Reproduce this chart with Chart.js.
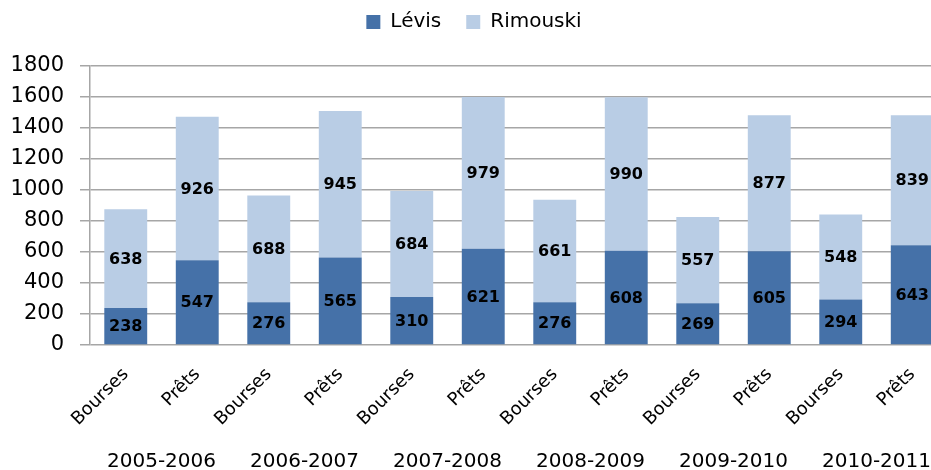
<!DOCTYPE html>
<html>
<head>
<meta charset="utf-8">
<script src="https://cdn.jsdelivr.net/npm/chart.js@4/dist/chart.umd.min.js"></script>
<style>
  html, body { margin: 0; padding: 0; background: #fff; overflow: hidden; }
  #wrap { width: 960px; height: 470px; }
</style>
</head>
<body>
<div id="wrap"><canvas id="chart" width="960" height="470"></canvas></div>
<script>
// données
const categories = ['Bourses', 'Prêts', 'Bourses', 'Prêts', 'Bourses', 'Prêts',
                    'Bourses', 'Prêts', 'Bourses', 'Prêts', 'Bourses', 'Prêts'];
const years = ['2005-2006', '2006-2007', '2007-2008', '2008-2009', '2009-2010', '2010-2011'];
const levis = [238, 547, 276, 565, 310, 621, 276, 608, 269, 605, 294, 643];
const rimouski = [638, 926, 688, 945, 684, 979, 661, 990, 557, 877, 548, 839];
const yTicks = [0, 200, 400, 600, 800, 1000, 1200, 1400, 1600, 1800];

const FONT = "'DejaVu Sans', sans-serif";

// légende : hauteur fixe, remontée de quelques pixels
const legendBox = {
    id: 'legendBox',
    beforeInit(chart) {
        const lg = chart.legend;
        if (!lg) return;
        const fit = lg.fit;
        lg.fit = function () {
            fit.call(this);
            this.height = 66;
        };
    },
    afterLayout(chart) {
        const lg = chart.legend;
        if (!lg) return;
        lg.top -= 13;
        lg.bottom -= 13;
    }
};

// étiquettes de valeurs au centre de chaque segment
const valueLabels = {
    id: 'valueLabels',
    afterDatasetsDraw(chart) {
        const ctx = chart.ctx;
        ctx.save();
        ctx.font = 'bold 16px ' + FONT;
        ctx.fillStyle = '#000';
        ctx.textAlign = 'center';
        ctx.textBaseline = 'middle';
        chart.data.datasets.forEach((ds, i) => {
            chart.getDatasetMeta(i).data.forEach((bar, j) => {
                const mid = (bar.y + bar.base) / 2;
                ctx.fillText(ds.data[j], bar.x, mid + 1);
            });
        });
        ctx.restore();
    }
};

// années sous les paires de barres
const yearLabels = {
    id: 'yearLabels',
    afterDraw(chart) {
        const ctx = chart.ctx;
        const x = chart.scales.x;
        ctx.save();
        ctx.font = '20px ' + FONT;
        ctx.fillStyle = '#000';
        ctx.textAlign = 'center';
        ctx.textBaseline = 'middle';
        years.forEach((y, i) => {
            const cx = (x.getPixelForValue(i * 2) + x.getPixelForValue(i * 2 + 1)) / 2;
            ctx.fillText(y, cx, 462);
        });
        ctx.restore();
    }
};

new Chart(document.getElementById('chart').getContext('2d'), {
    type: 'bar',
    data: {
        labels: categories,
        datasets: [
            { label: 'Lévis', data: levis, backgroundColor: '#4571a8' },
            { label: 'Rimouski', data: rimouski, backgroundColor: '#b9cde5' }
        ]
    },
    options: {
        responsive: false,
        animation: false,
        devicePixelRatio: 1,
        layout: { padding: { top: 0, right: 12, left: 0, bottom: 0 } },
        datasets: { bar: { categoryPercentage: 1, barPercentage: 0.6 } },
        plugins: {
            legend: {
                position: 'top',
                labels: {
                    font: { family: FONT, size: 20 },
                    color: '#000',
                    boxWidth: 14,
                    boxHeight: 14,
                    padding: 25
                }
            },
            tooltip: { enabled: false }
        },
        scales: {
            x: {
                stacked: true,
                grid: { display: false },
                border: { display: false },
                ticks: {
                    font: { family: FONT, size: 18 },
                    color: '#000',
                    maxRotation: 45,
                    minRotation: 45,
                    padding: 11
                },
                afterFit(scale) { scale.height = 125; }
            },
            y: {
                stacked: true,
                min: 0,
                max: 1800,
                afterBuildTicks(scale) { scale.ticks = yTicks.map(v => ({ value: v })); },
                grid: { color: '#a6a6a6', lineWidth: 1.5, tickLength: 10 },
                border: { display: true, color: '#a6a6a6', width: 1.5 },
                ticks: {
                    font: { family: FONT, size: 21 },
                    color: '#000',
                    padding: 16,
                    callback: v => String(v)
                },
                afterFit(scale) { scale.width = 90; }
            }
        }
    },
    plugins: [legendBox, valueLabels, yearLabels]
});
</script>
</body>
</html>
